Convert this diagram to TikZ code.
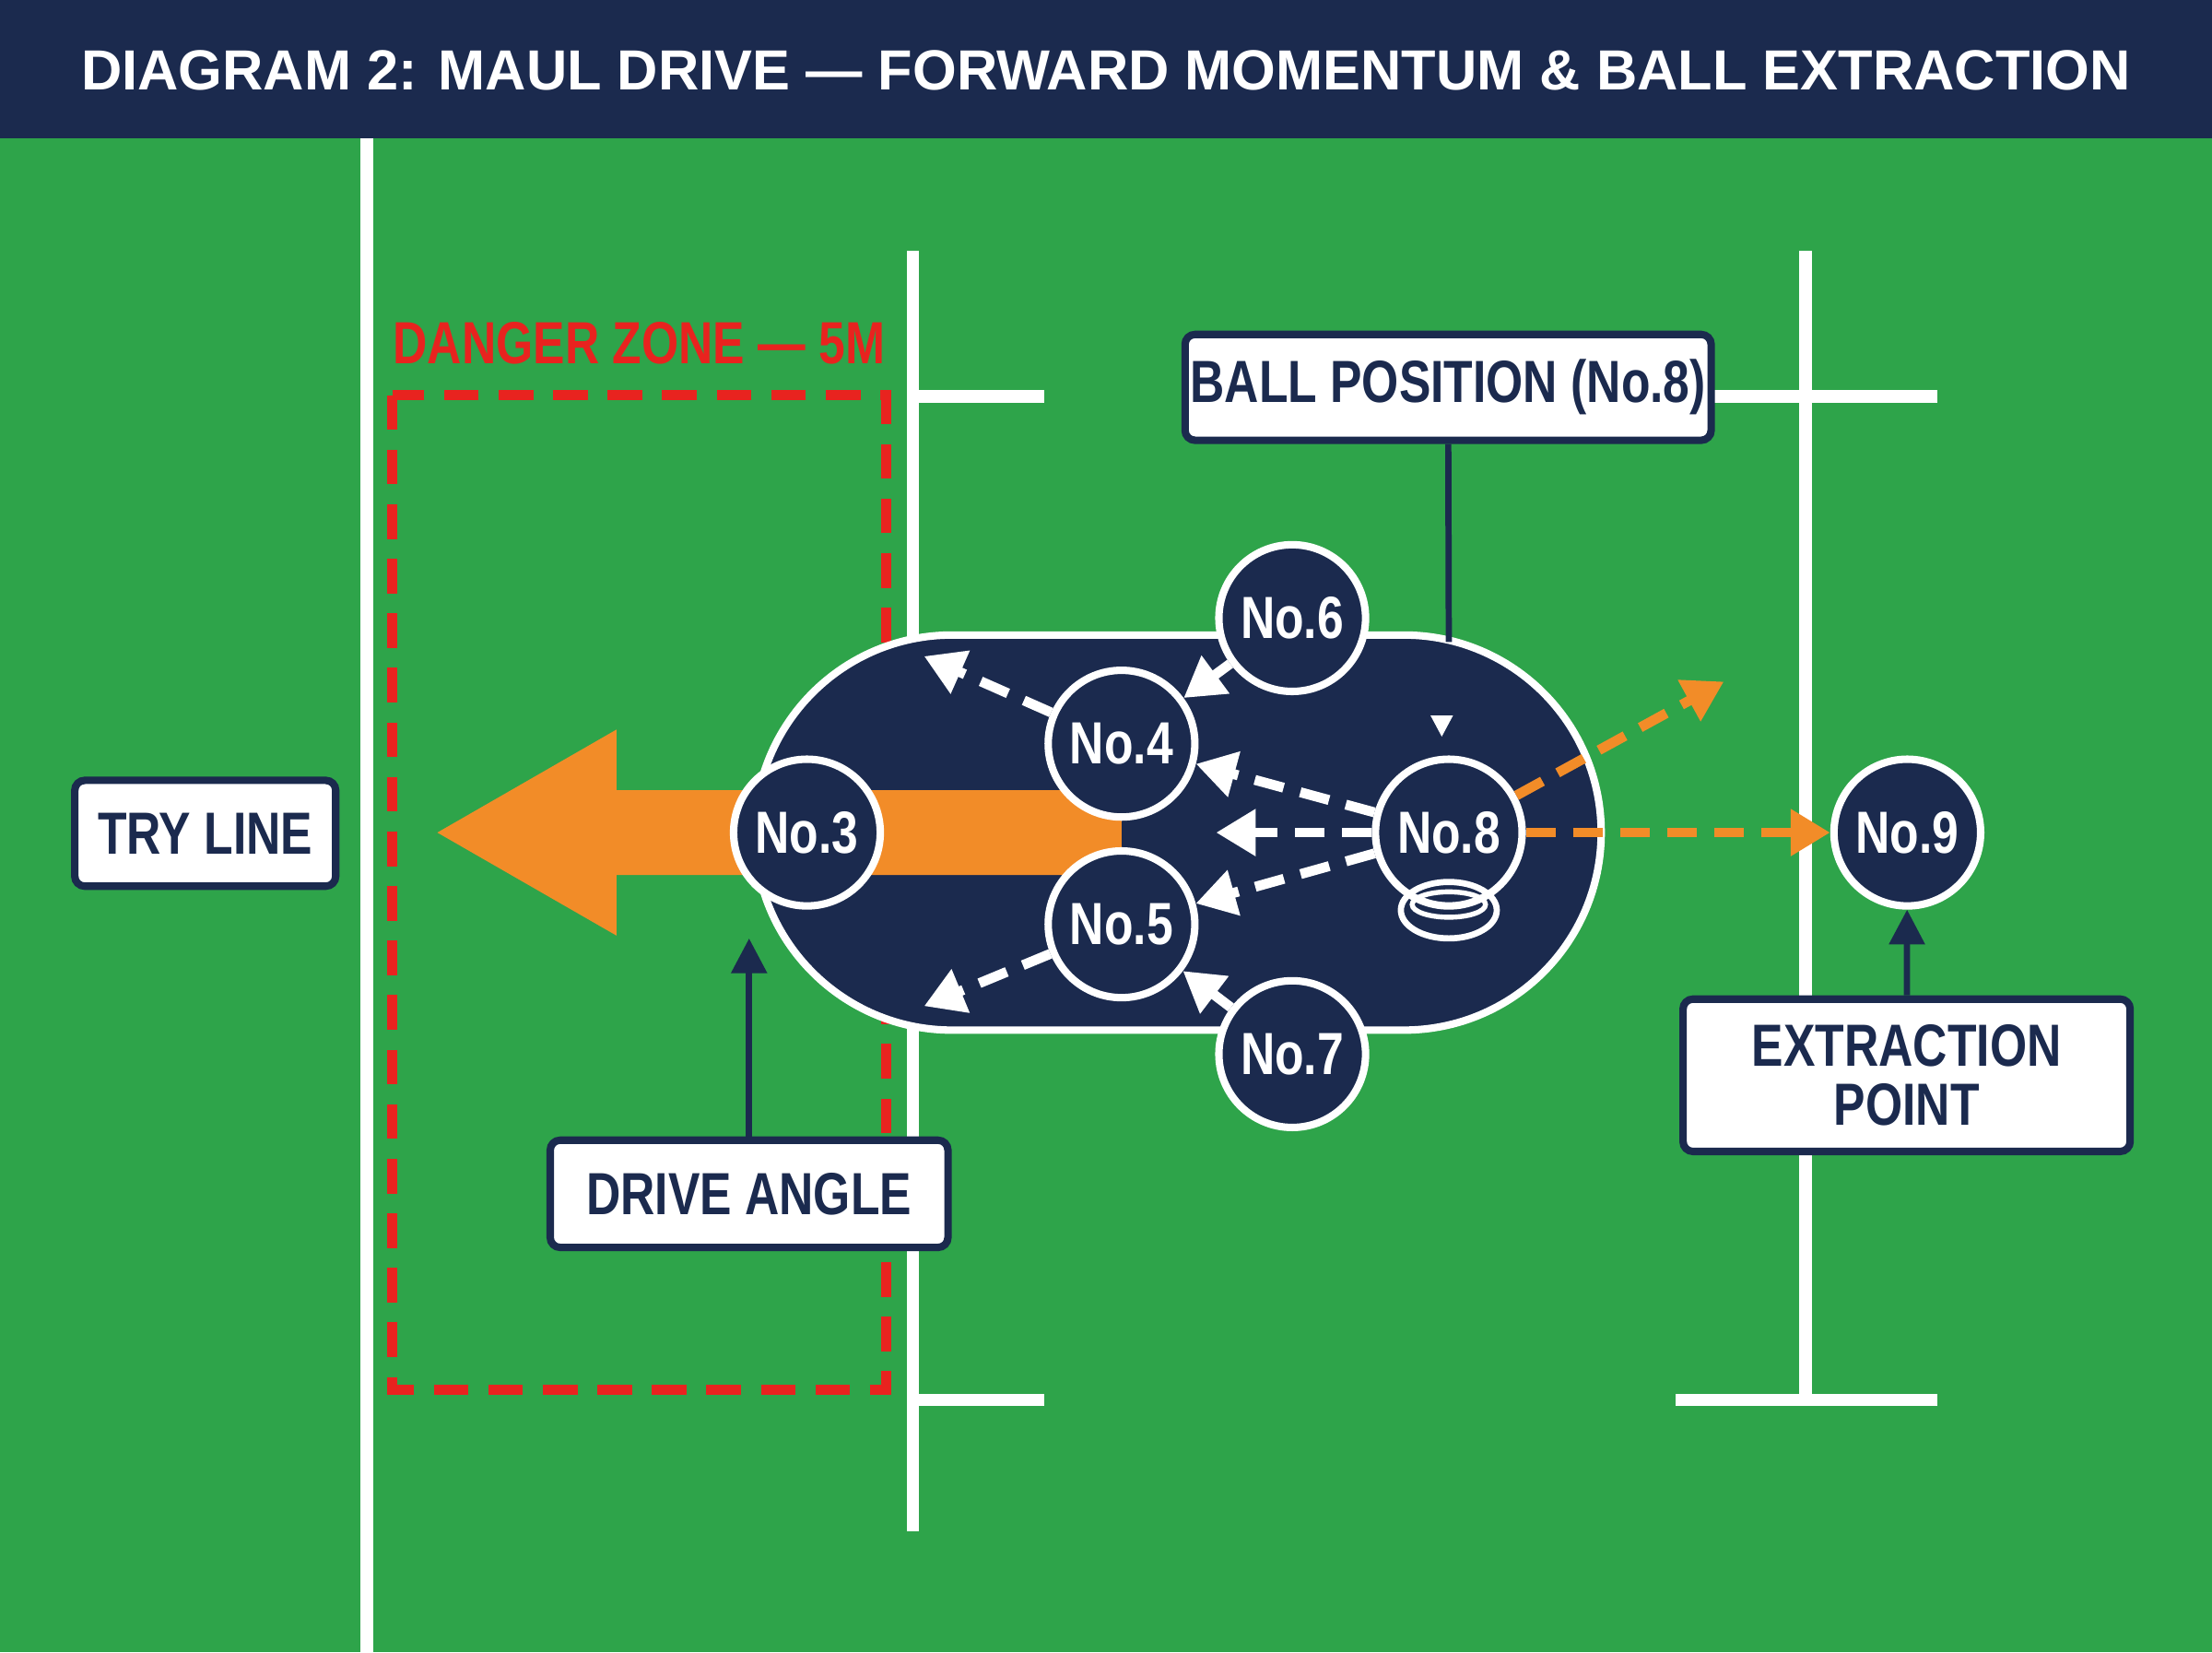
\documentclass[tikz,border=0pt]{standalone}
\usepackage{fontspec}
\setmainfont{Liberation Sans}
\usetikzlibrary{arrows.meta,shapes.geometric}
\definecolor{field}{HTML}{2EA44A}
\definecolor{navy}{HTML}{1B2A4E}
\definecolor{org}{HTML}{F28C28}
\definecolor{dred}{HTML}{E8231F}
\newcommand{\cnd}[1]{\scalebox{0.8}[1]{#1}}
\begin{document}
\begin{tikzpicture}[x=0.02cm,y=-0.02cm,
  lbl/.style={draw=navy,line width=3pt,fill=white,rounded corners=4pt,font=\bfseries\fontsize{24}{26}\selectfont,text=navy,align=center,inner sep=0pt},
  pl/.style={circle,draw=white,line width=3pt,fill=navy,minimum size=104\pgflinewidth,minimum size=2.08cm,inner sep=0pt,font=\bfseries\fontsize{24}{26}\selectfont,text=white},
  wl/.style={white,line width=5pt},
  wa/.style={white,line width=4pt,dash pattern=on 12pt off 7pt,-{Triangle[length=16pt,width=18pt]}},
  oa/.style={org,line width=4pt,dash pattern=on 12pt off 7pt,-{Triangle[length=16pt,width=18pt]}}]
\useasboundingbox (0,0) rectangle (1568,1171);
\fill[field] (0,0) rectangle (1568,1171);
\fill[navy] (0,0) rectangle (1568,98);
\node[text=white,font=\bfseries\fontsize{36}{40}\selectfont] (title) at (784,50) {\resizebox{29.06cm}{!}{DIAGRAM 2: MAUL DRIVE — FORWARD MOMENTUM \& BALL EXTRACTION}};
% field lines
\draw[wl] (260,98) -- (260,1171);
\draw[wl] (647,178) -- (647,1085);
\draw[wl] (647,281) -- (740,281);
\draw[wl] (647,992) -- (740,992);
\draw[wl] (1280,178) -- (1280,990);
\draw[wl] (1190,281) -- (1373,281);
\draw[wl] (1188,992) -- (1373,992);
% danger zone
\draw[dred,line width=4pt,dash pattern=on 14pt off 8pt] (278,280) rectangle (628,985);
\node[text=dred,font=\bfseries\fontsize{24}{26}\selectfont] (dz) at (453,243) {\cnd{DANGER ZONE — 5M}};
% maul
\draw[white,line width=3pt,fill=navy,rounded corners=139.9*0.02cm] (535,450) rectangle (1135,730);
% big arrow
\fill[org] (795,560) -- (437,560) -- (437,517) -- (310,590) -- (437,663) -- (437,620) -- (795,620) -- cycle;
% players
\node[pl] (p3) at (572,590) {\cnd{No.3}};
\node[pl] (p4) at (795,527) {\cnd{No.4}};
\node[pl] (p5) at (795,655) {\cnd{No.5}};
\node[pl] (p6) at (916,438) {\cnd{No.6}};
\node[pl] (p7) at (916,747) {\cnd{No.7}};
\node[pl] (p8) at (1027,590) {\cnd{No.8}};
\node[pl] (p9) at (1352,590) {\cnd{No.9}};
% arrows
\coordinate (a1) at (655,465);
\coordinate (a2) at (862,590);
\coordinate (a3) at (655,713);
\coordinate (a4) at (1222,483);
\draw[wa] (p4) -- (a1);
\draw[wa] (p5) -- (a3);
\draw[wa] (p8) -- (p4);
\draw[wa] (p8.west) -- (a2);
\draw[wa] (p8) -- (p5);
\draw[wa] (p6) -- (p4);
\draw[wa] (p7) -- (p5);
\draw[oa] (p8) -- (a4);
\draw[oa] (p8) -- (p9);
\fill[white] (1014,507) -- (1030,507) -- (1022,522) -- cycle;
\draw[white,line width=2.5pt] (1027,645) ellipse (34 and 20);
\draw[white,line width=2pt] (1027,641) ellipse (26 and 9);
% labels
\node[lbl,minimum width=3.7cm,minimum height=1.5cm] (try) at (145.5,590.5) {\cnd{TRY LINE}};
\node[lbl,minimum width=7.46cm,minimum height=1.5cm] (ball) at (1026.5,274.5) {\cnd{BALL POSITION (No.8)}};
\node[lbl,minimum width=5.64cm,minimum height=1.52cm] (drive) at (531,846) {\cnd{DRIVE ANGLE}};
\node[lbl,minimum width=6.34cm,minimum height=2.16cm] (ext) at (1351.5,762) {\cnd{EXTRACTION}\\[-2pt]\cnd{POINT}};
\coordinate (bt) at (1027,455);
\draw[navy,line width=2.5pt] (ball) -- (bt);
\coordinate (dt) at (531,665);
\draw[navy,line width=2.5pt,-{Triangle[length=14pt,width=14pt]}] (drive) -- (dt);
\draw[navy,line width=2.5pt,-{Triangle[length=14pt,width=14pt]}] (ext) -- (p9);
\end{tikzpicture}
\end{document}
